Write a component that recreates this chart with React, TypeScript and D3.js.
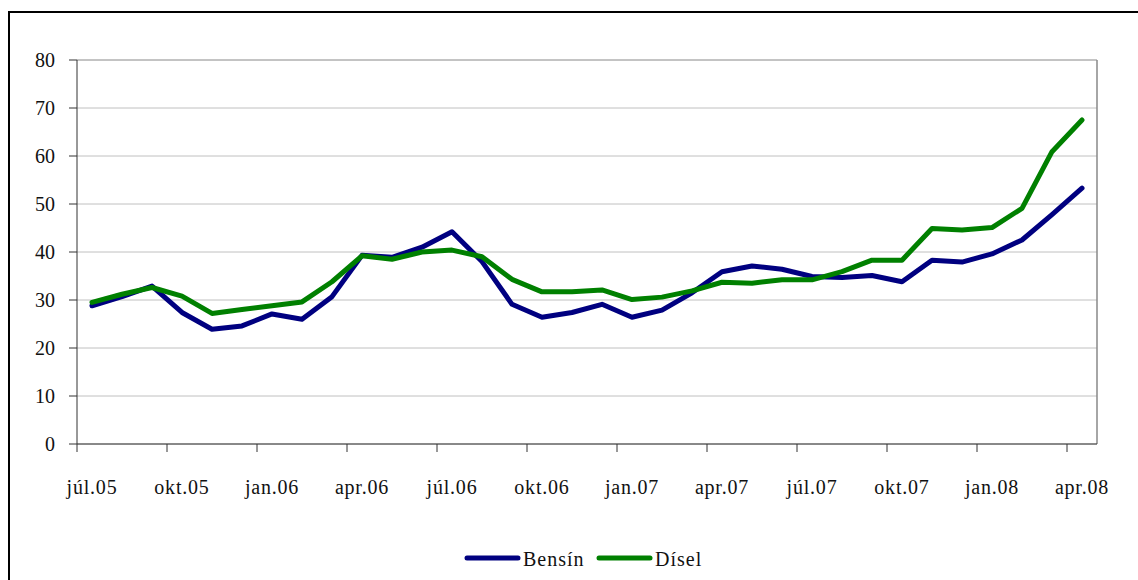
import React from "react";
import * as d3 from "d3";

const months = [
  "júl.05","ágú.05","sep.05","okt.05","nóv.05","des.05",
  "jan.06","feb.06","mar.06","apr.06","maí.06","jún.06",
  "júl.06","ágú.06","sep.06","okt.06","nóv.06","des.06",
  "jan.07","feb.07","mar.07","apr.07","maí.07","jún.07",
  "júl.07","ágú.07","sep.07","okt.07","nóv.07","des.07",
  "jan.08","feb.08","mar.08","apr.08",
];

const bensin = [
  28.8, 30.7, 32.9, 27.4, 23.9, 24.6, 27.1, 26.0, 30.7, 39.3, 38.9, 41.0,
  44.2, 38.0, 29.1, 26.4, 27.4, 29.1, 26.4, 27.9, 31.5, 35.9,
  37.1, 36.4, 34.9, 34.7, 35.1, 33.8, 38.3, 37.9, 39.6, 42.5, 47.8, 53.3,
];

const disel = [
  29.5, 31.2, 32.6, 30.8, 27.2, 28.0, 28.8, 29.6, 33.8, 39.2, 38.5, 40.0,
  40.4, 39.0, 34.3, 31.7, 31.7, 32.1, 30.1, 30.6, 31.9, 33.7,
  33.5, 34.2, 34.2, 35.9, 38.3, 38.3, 44.9, 44.6, 45.1, 49.1, 60.9, 67.5,
];

const yTicks = [0, 10, 20, 30, 40, 50, 60, 70, 80];

const seriesNames = ["Bensín", "Dísel"];
const seriesColors = ["#000080", "#008000"];

export default function App() {
  const W = 1138;
  const H = 580;
  const left = 77, right = 1097, top = 60, bottom = 444;
  const x = d3.scalePoint<string>().domain(months).range([left, right]).padding(0.5);
  const step = x.step();
  const y = d3.scaleLinear().domain([0, 80]).range([bottom, top]);
  const line = d3
    .line<number>()
    .x((_, i) => x(months[i]) as number)
    .y((d) => y(d));
  const series = [bensin, disel];
  const font = "'Liberation Serif', 'Times New Roman', serif";
  const tickCats = months.filter((_, i) => i % 3 === 0);

  return (
    <svg
      width={W}
      height={H}
      style={{ position: "absolute", left: 0, top: 0, background: "#fff" }}
      fontFamily={font}
    >
      <rect x={0} y={0} width={W} height={H} fill="#fff" />
      {/* outer frame */}
      <rect x={9} y={12} width={W + 20} height={H + 20} fill="none" stroke="#000" strokeWidth={2} />

      {/* gridlines */}
      {yTicks.map((t) => (
        <line
          key={"g" + t}
          x1={left}
          x2={right}
          y1={y(t)}
          y2={y(t)}
          stroke={t === 80 ? "#888" : "#c0c0c0"}
          strokeWidth={1}
        />
      ))}
      {/* plot area right border */}
      <line x1={right} x2={right} y1={top} y2={bottom} stroke="#888" strokeWidth={1.5} />

      {/* y axis */}
      <line x1={left} x2={left} y1={top} y2={bottom} stroke="#333" strokeWidth={1} />
      {yTicks.map((t) => (
        <g key={"yt" + t}>
          <line x1={left - 8} x2={left} y1={y(t)} y2={y(t)} stroke="#333" />
          <text
            x={55}
            y={y(t)}
            dy="0.35em"
            textAnchor="end"
            fontSize={20}
            fill="#111"
          >
            {t}
          </text>
        </g>
      ))}

      {/* x axis */}
      <line x1={left} x2={right} y1={bottom} y2={bottom} stroke="#333" strokeWidth={1} />
      {tickCats.map((m) => {
        const cx = x(m) as number;
        return (
          <g key={"xt" + m}>
            <line x1={cx - step / 2} x2={cx - step / 2} y1={bottom} y2={bottom + 8} stroke="#333" />
            <text
              x={cx}
              y={494}
              textAnchor="middle"
              fontSize={20}
              letterSpacing={0.8}
              fill="#111"
            >
              {m}
            </text>
          </g>
        );
      })}

      {/* series */}
      {series.map((s, k) => (
        <path
          key={"s" + k}
          d={line(s) || ""}
          fill="none"
          stroke={seriesColors[k]}
          strokeWidth={5}
          strokeLinejoin="round"
          strokeLinecap="round"
        />
      ))}

      {/* legend */}
      {seriesNames.map((n, k) => {
        const lx = 467 + k * 132;
        return (
          <g key={"lg" + k}>
            <line
              x1={lx}
              x2={lx + 51}
              y1={558}
              y2={558}
              stroke={seriesColors[k]}
              strokeWidth={5}
              strokeLinecap="round"
            />
            <text x={lx + 56} y={566} fontSize={20} letterSpacing={1} fill="#111">
              {n}
            </text>
          </g>
        );
      })}
    </svg>
  );
}
